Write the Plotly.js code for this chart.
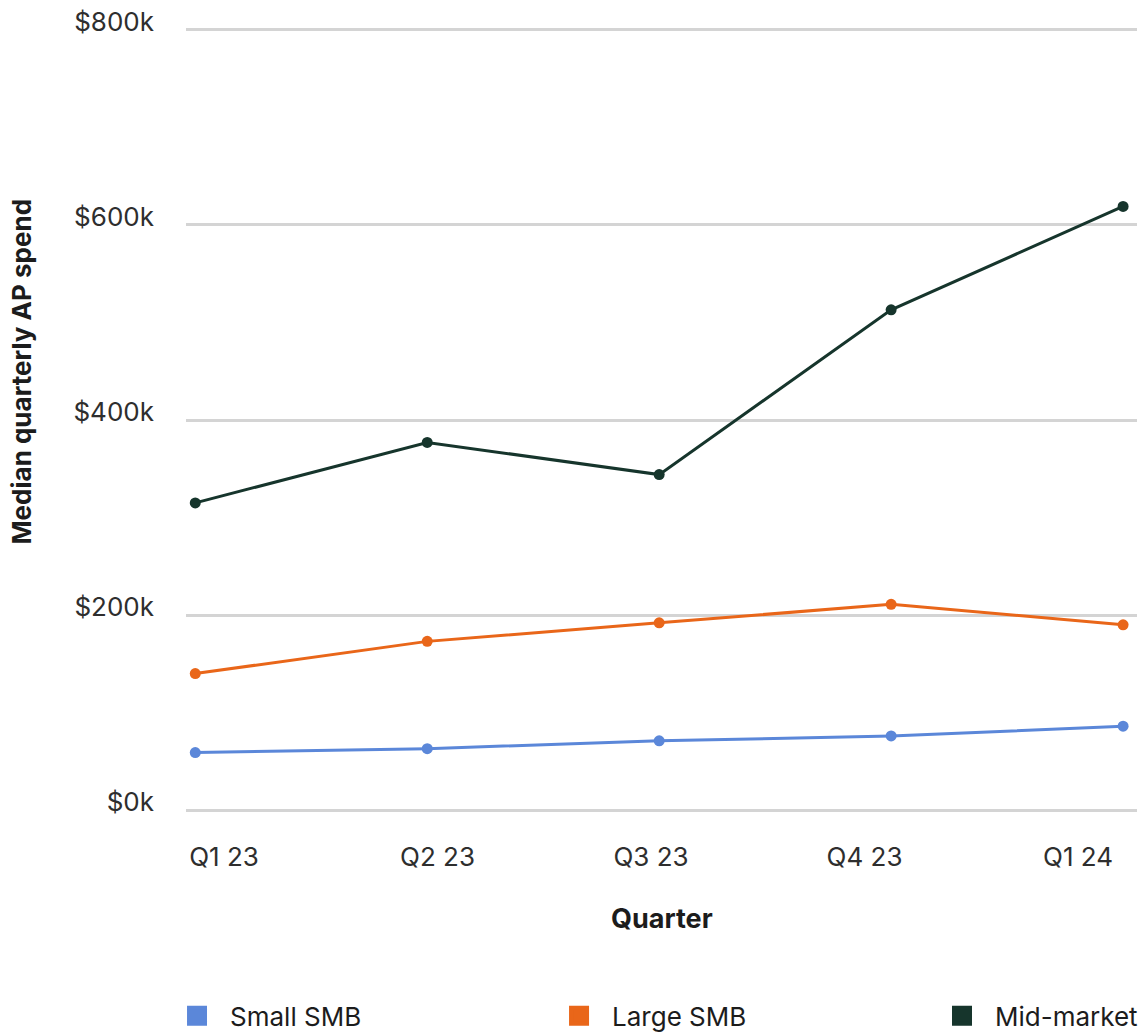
<!DOCTYPE html>
<html>
<head>
<meta charset="utf-8">
<script src="https://cdn.plot.ly/plotly-3.0.1.min.js"></script>
<style>
  html, body { margin: 0; padding: 0; background: #ffffff; }
  #chart { width: 1144px; height: 1035px; }
</style>
</head>
<body>
<div id="chart"></div>
<script>
// Median quarterly AP spend by company segment (values in $ thousands)
const quarters = ["Q1 23", "Q2 23", "Q3 23", "Q4 23", "Q1 24"];
const smallSMB = [59, 63, 71, 76, 86];
const largeSMB = [140, 173, 192, 211, 190];
const midMarket = [315, 377, 344, 513, 619];

const seriesNames = ["Small SMB", "Large SMB", "Mid-market"];
const seriesColors = ["#5b87d9", "#e96619", "#16352c"];
const seriesValues = [smallSMB, largeSMB, midMarket];

const yTickVals = [0, 200, 400, 600, 800];
const yTickText = yTickVals.map(v => "$" + v + "k");

const FONT = "Inter, 'Liberation Sans', Arial, sans-serif";
const legendIds = ["legend", "legend2", "legend3"];

const traces = [];
seriesValues.forEach((vals, i) => {
  traces.push({
    type: "scatter",
    mode: "lines+markers",
    name: seriesNames[i],
    legendgroup: seriesNames[i],
    showlegend: false,
    x: quarters,
    y: vals,
    line: { color: seriesColors[i], width: 3 },
    marker: { color: seriesColors[i], size: 11 },
    hovertemplate: "%{x}: $%{y}k<extra>" + seriesNames[i] + "</extra>"
  });
});
// Legend entries drawn as filled squares, one legend box per segment
seriesValues.forEach((vals, i) => {
  traces.push({
    type: "scatter",
    mode: "markers",
    name: seriesNames[i],
    legendgroup: seriesNames[i],
    legend: legendIds[i],
    x: [null],
    y: [null],
    marker: { color: seriesColors[i], size: 16, symbol: "square",
              line: { color: seriesColors[i], width: 4 } },
    hoverinfo: "skip"
  });
});
// Carrier for the quarter labels on the overlaid label axis
traces.push({
  type: "scatter",
  mode: "markers",
  x: quarters,
  y: quarters.map(() => null),
  xaxis: "x2",
  showlegend: false,
  hoverinfo: "skip"
});

const legendBase = {
  orientation: "h",
  y: -0.258,
  xanchor: "left", yanchor: "middle",
  itemwidth: 56,
  font: { family: FONT, size: 26, color: "#1c1c1c" },
  bgcolor: "rgba(0,0,0,0)"
};

const layout = {
  width: 1144,
  height: 1035,
  margin: { l: 186, r: 7, t: 27, b: 222, autoexpand: false },
  paper_bgcolor: "#ffffff",
  plot_bgcolor: "#ffffff",
  font: { family: FONT, size: 26, color: "#2e2e2e" },
  showlegend: true,
  xaxis: {
    type: "category",
    range: [-0.04, 4.06],
    showgrid: false,
    zeroline: false,
    showline: false,
    ticks: "",
    showticklabels: false
  },
  xaxis2: {
    type: "category",
    overlaying: "x",
    anchor: "y",
    side: "bottom",
    range: [-0.178, 4.276],
    showgrid: false,
    zeroline: false,
    showline: false,
    ticks: "",
    ticklabelstandoff: 26,
    tickfont: { family: FONT, size: 26, color: "#2e2e2e" }
  },
  yaxis: {
    range: [-3, 803],
    tickvals: yTickVals,
    ticktext: yTickText,
    showgrid: true,
    gridcolor: "#d4d4d4",
    gridwidth: 2.5,
    zeroline: false,
    showline: false,
    ticks: "",
    ticklabelstandoff: 31,
    ticklabelshift: -8,
    tickfont: { family: FONT, size: 26, color: "#2e2e2e" }
  },
  annotations: [
    {
      text: "<b>Quarter</b>",
      xref: "paper", yref: "paper",
      x: 0.5, y: -0.134,
      xanchor: "center", yanchor: "middle",
      showarrow: false,
      font: { family: FONT, size: 27, color: "#1c1c1c" }
    },
    {
      text: "<b>Median quarterly AP spend</b>",
      xref: "paper", yref: "paper",
      x: -0.1725, y: 0.5615,
      xanchor: "center", yanchor: "middle",
      textangle: -90,
      showarrow: false,
      font: { family: FONT, size: 26, color: "#1c1c1c" }
    }
  ],
  legend: Object.assign({}, legendBase, { x: -0.0231 }),
  legend2: Object.assign({}, legendBase, { x: 0.3786 }),
  legend3: Object.assign({}, legendBase, { x: 0.7813 })
};

Plotly.newPlot("chart", traces, layout, { displayModeBar: false, responsive: false });
</script>
</body>
</html>
